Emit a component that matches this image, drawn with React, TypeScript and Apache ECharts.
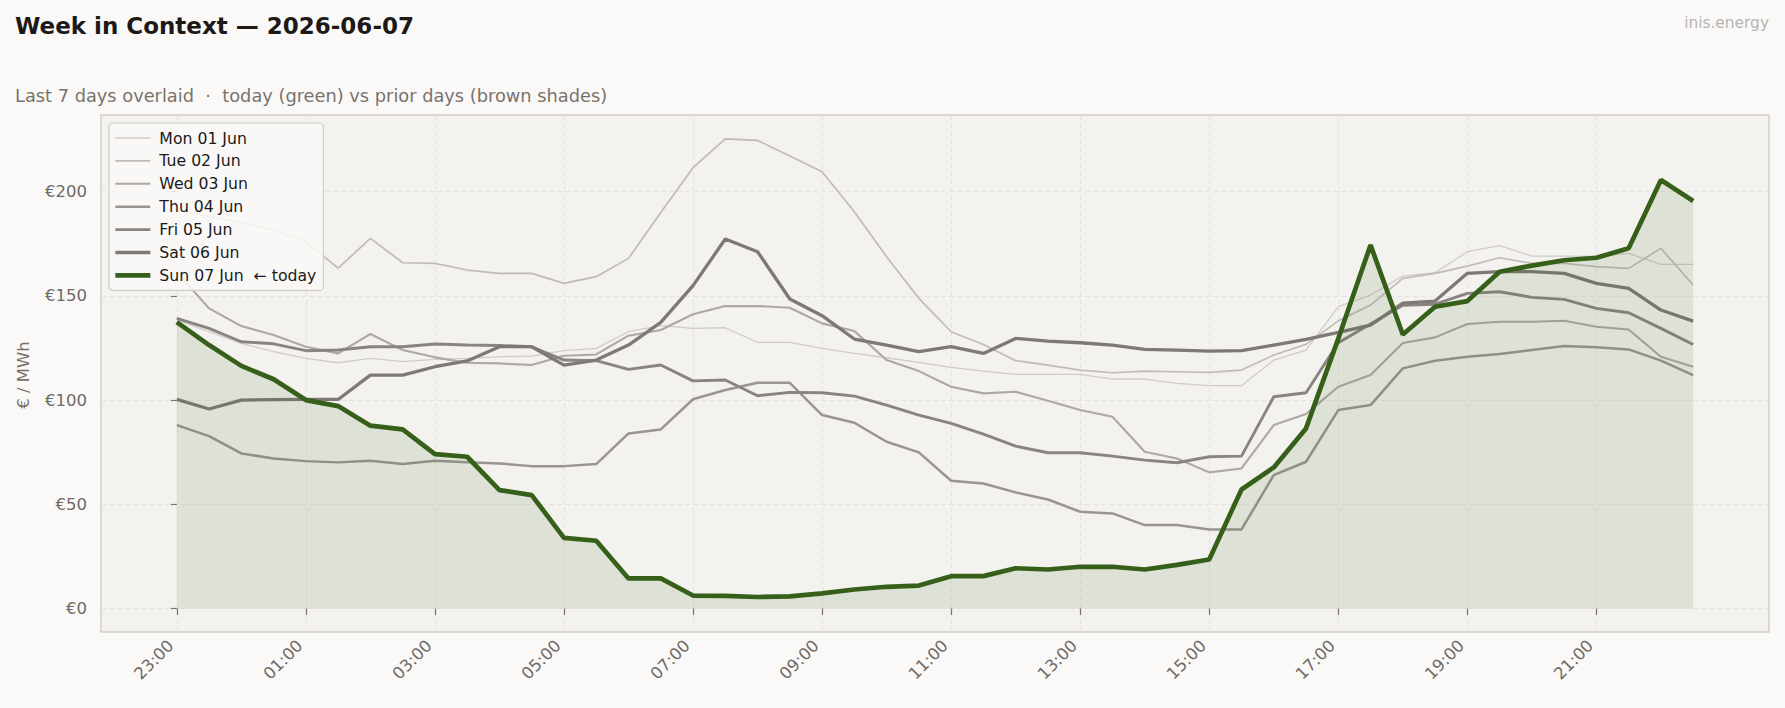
import React, { useEffect, useRef } from "react";
import * as echarts from "echarts";

const SLOTS = [
  "23:00", "23:30", "00:00", "00:30", "01:00", "01:30", "02:00", "02:30",
  "03:00", "03:30", "04:00", "04:30", "05:00", "05:30", "06:00", "06:30",
  "07:00", "07:30", "08:00", "08:30", "09:00", "09:30", "10:00", "10:30",
  "11:00", "11:30", "12:00", "12:30", "13:00", "13:30", "14:00", "14:30",
  "15:00", "15:30", "16:00", "16:30", "17:00", "17:30", "18:00", "18:30",
  "19:00", "19:30", "20:00", "20:30", "21:00", "21:30", "22:00", "22:30",
];
const TICK_LABELS = ["23:00", "01:00", "03:00", "05:00", "07:00", "09:00", "11:00", "13:00", "15:00", "17:00", "19:00", "21:00"];
const Y_TICKS = [0, 50, 100, 150, 200];
const DAY_NAMES = ["Mon 01 Jun", "Tue 02 Jun", "Wed 03 Jun", "Thu 04 Jun", "Fri 05 Jun", "Sat 06 Jun", "Sun 07 Jun  ← today"];

const MON = [138.5, 132.8, 127.2, 123.2, 120.0, 117.9, 120.0, 118.4, 119.5, 120.0, 120.8, 121.1, 123.7, 124.8, 132.8, 135.7, 134.4, 134.7, 127.7, 127.7, 124.8, 122.4, 120.3, 118.1, 115.7, 113.9, 112.3, 112.3, 112.3, 110.1, 110.1, 108.0, 106.9, 106.9, 119.2, 124.0, 144.8, 150.4, 159.5, 161.1, 171.2, 174.1, 169.1, 169.1, 169.0, 170.4, 165.1, 165.1];
const TUE = [191.0, 188.0, 185.3, 181.6, 176.0, 163.3, 177.6, 165.9, 165.6, 162.4, 160.8, 160.8, 156.0, 159.2, 168.0, 190.0, 211.5, 225.3, 224.6, 217.1, 209.6, 190.4, 168.8, 148.8, 132.8, 126.7, 118.9, 116.8, 114.4, 113.1, 113.9, 113.6, 113.3, 114.4, 121.6, 126.7, 138.0, 145.6, 158.4, 160.8, 164.3, 168.3, 165.6, 165.6, 164.0, 163.2, 172.8, 155.2];
const WED = [161.3, 144.0, 135.5, 131.2, 125.6, 122.4, 131.7, 124.0, 120.5, 117.9, 117.6, 116.8, 121.3, 121.9, 130.9, 133.6, 141.2, 145.1, 145.1, 144.3, 136.8, 133.1, 119.2, 113.9, 106.4, 103.2, 104.0, 99.7, 95.2, 92.0, 75.2, 72.0, 65.3, 67.2, 88.0, 93.3, 106.4, 112.0, 127.4, 130.1, 136.5, 137.6, 137.6, 138.1, 135.2, 133.9, 120.8, 116.0];
const THU = [88.0, 82.7, 74.4, 72.0, 70.7, 70.1, 70.9, 69.3, 70.9, 70.2, 69.6, 68.3, 68.3, 69.3, 84.0, 85.9, 100.4, 104.8, 108.3, 108.3, 92.8, 89.1, 80.0, 74.9, 61.3, 60.0, 55.7, 52.3, 46.4, 45.6, 40.0, 40.0, 37.9, 37.9, 64.0, 70.4, 95.2, 97.6, 115.2, 118.9, 120.8, 122.1, 124.0, 125.9, 125.3, 124.3, 118.9, 112.0];
const FRI = [139.2, 134.4, 128.0, 127.0, 123.7, 124.0, 125.6, 125.6, 126.9, 126.4, 126.2, 125.6, 119.2, 118.9, 114.7, 116.8, 109.2, 109.6, 102.1, 103.7, 103.5, 101.9, 97.6, 92.8, 88.8, 83.7, 77.9, 74.7, 74.7, 73.1, 71.2, 69.9, 72.8, 73.1, 101.6, 103.5, 127.5, 136.5, 145.5, 146.0, 151.2, 152.0, 149.3, 148.3, 144.0, 141.9, 134.4, 126.7];
const SAT = [100.3, 95.7, 100.0, 100.2, 100.3, 100.3, 112.0, 112.0, 116.0, 118.8, 125.6, 125.6, 116.8, 119.2, 126.4, 137.3, 154.9, 177.3, 171.2, 148.5, 140.5, 129.3, 126.4, 123.2, 125.6, 122.4, 129.6, 128.3, 127.5, 126.4, 124.3, 124.0, 123.5, 123.7, 126.4, 129.1, 132.5, 136.0, 146.5, 147.5, 160.8, 161.6, 161.6, 160.8, 156.0, 153.6, 143.2, 137.9];
const SUN = [137.4, 126.4, 116.4, 110.0, 100.0, 97.1, 87.7, 85.9, 74.1, 72.8, 56.8, 54.4, 33.9, 32.5, 14.4, 14.4, 6.2, 6.0, 5.5, 5.8, 7.2, 9.1, 10.4, 11.0, 15.5, 15.5, 19.3, 18.7, 20.0, 20.0, 18.7, 20.9, 23.5, 57.1, 67.7, 86.4, 129.5, 174.4, 131.5, 144.8, 147.5, 161.6, 164.5, 167.1, 168.3, 172.8, 205.6, 195.5];

const DAY_VALUES = [MON, TUE, WED, THU, FRI, SAT, SUN];
const DAY_COLORS = ["#d0cbc6", "#c1bbb6", "#aea7a2", "#9b9490", "#8a8481", "#7e7876", "#36601a"];
const DAY_WIDTHS = [1.3, 1.7, 2.1, 2.5, 2.9, 3.3, 4.7];

const FONT = "DejaVu Sans";

export default function App() {
  const ref = useRef<HTMLDivElement>(null);
  useEffect(() => {
    const chart = echarts.init(ref.current!, null, { renderer: "svg" });
    const tickIdx = TICK_LABELS.map((t) => SLOTS.indexOf(t));
    const series: any[] = DAY_NAMES.map((name, k) => {
      const s: any = {
        name,
        type: "line",
        data: DAY_VALUES[k].map((v, i) => [i, v]),
        symbol: "none",
        silent: true,
        lineStyle: { color: DAY_COLORS[k], width: DAY_WIDTHS[k] },
        itemStyle: { color: DAY_COLORS[k] },
        z: 2 + k * 0.01,
      };
      if (k === 6) {
        s.areaStyle = { color: "rgba(62,104,28,0.16)" };
      }
      return s;
    });
    chart.setOption({
      animation: false,
      backgroundColor: "#faf9f7",
      textStyle: { fontFamily: FONT },
      title: [
        {
          text: "Week in Context — 2026-06-07",
          left: 15,
          top: 14.5,
          padding: 0,
          textStyle: { fontSize: 23, fontWeight: "bold", color: "#1c1917", fontFamily: FONT },
        },
        {
          text: "Last 7 days overlaid  ·  today (green) vs prior days (brown shades)",
          left: 15,
          top: 86.3,
          padding: 0,
          textStyle: { fontSize: 17.8, fontWeight: "normal", color: "#78726d", fontFamily: FONT },
        },
        {
          text: "inis.energy",
          right: 16,
          top: 15,
          padding: 0,
          textStyle: { fontSize: 15.4, fontWeight: "normal", color: "#b8b4b0", fontFamily: FONT },
        },
      ],
      grid: {
        left: 101,
        right: 16,
        top: 115,
        bottom: 76,
        show: true,
        backgroundColor: "#f3f2ee",
        borderColor: "#d3cfc9",
        borderWidth: 1.5,
      },
      legend: {
        orient: "vertical",
        left: 109,
        top: 123,
        itemWidth: 35,
        itemHeight: 14,
        itemGap: 6.9,
        padding: [7, 7, 7, 4],
        backgroundColor: "rgba(249,249,247,0.85)",
        borderColor: "#d0ccc6",
        borderWidth: 1.2,
        borderRadius: 4,
        itemStyle: { opacity: 0, borderWidth: 0 },
        lineStyle: { width: "inherit" },
        textStyle: { fontSize: 15.7, color: "#1a1a1a", fontFamily: FONT, padding: [0, 0, 0, 4] },
        data: DAY_NAMES.map((name, k) => ({
          name,
          itemStyle: { opacity: 0, borderWidth: 0 },
          lineStyle: { width: DAY_WIDTHS[k], color: DAY_COLORS[k] },
        })),
      },
      xAxis: {
        type: "value",
        min: -2.35,
        max: 49.35,
        axisLine: { show: false },
        axisTick: {
          show: true,
          length: 6.5,
          lineStyle: { color: "#7a736e", width: 1.2 },
          customValues: tickIdx,
        },
        axisLabel: {
          customValues: tickIdx,
          rotate: 45,
          align: "right",
          verticalAlign: "bottom",
          formatter: (v: number) => SLOTS[Math.round(v)] || "",
          fontSize: 16.5,
          color: "#6f6a66",
          margin: 17,
          fontFamily: FONT,
        },
        splitLine: { show: true, lineStyle: { color: "#e6e3de", type: [5, 3], width: 1 } },
      },
      yAxis: {
        type: "value",
        min: -11.3,
        max: 236.8,
        axisLine: { show: false },
        axisTick: {
          show: true,
          length: 6,
          lineStyle: { color: "#7a736e", width: 1.2 },
          customValues: Y_TICKS,
        },
        axisLabel: {
          customValues: Y_TICKS,
          formatter: (v: number) => "€" + v,
          fontSize: 16.5,
          color: "#6f6a66",
          margin: 14,
          fontFamily: FONT,
        },
        splitLine: { show: true, lineStyle: { color: "#e6e3de", type: [5, 3], width: 1 } },
      },
      graphic: [
        {
          type: "text",
          x: 23,
          y: 375,
          rotation: Math.PI / 2,
          style: {
            text: "€ / MWh",
            fontSize: 16.5,
            fill: "#78726d",
            textAlign: "center",
            textVerticalAlign: "middle",
            fontFamily: FONT,
          },
        },
      ],
      series,
    });
    return () => chart.dispose();
  }, []);
  return (
    <div
      ref={ref}
      style={{ position: "fixed", left: 0, top: 0, width: 1785, height: 708, background: "#faf9f7" }}
    />
  );
}
